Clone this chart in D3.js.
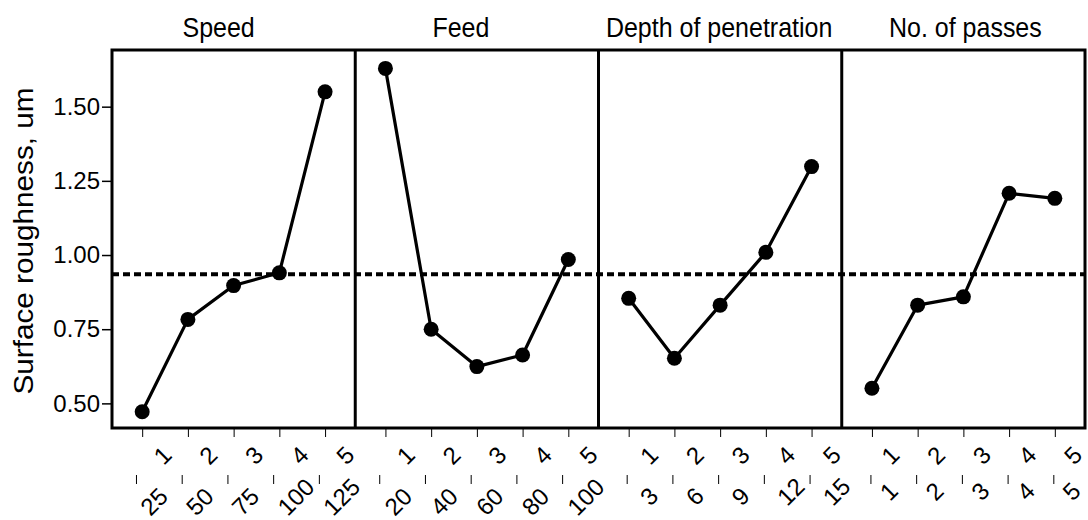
<!DOCTYPE html>
<html>
<head>
<meta charset="utf-8">
<script src="https://cdn.jsdelivr.net/npm/d3@7"></script>
<style>
  html, body { margin: 0; padding: 0; background: #fff; }
  svg { display: block; }
  text { font-family: "Liberation Sans", Arial, sans-serif; fill: #000; }
</style>
</head>
<body>
<svg id="chart" width="1088" height="520"></svg>
<script>
// ---- data ----
const factors = ["Speed", "Feed", "Depth of penetration", "No. of passes"];
const levels = ["1", "2", "3", "4", "5"];
const speedLevels = ["25", "50", "75", "100", "125"];
const feedLevels = ["20", "40", "60", "80", "100"];
const depthLevels = ["3", "6", "9", "12", "15"];
const passLevels = ["1", "2", "3", "4", "5"];
const speedMeans = [0.472, 0.783, 0.897, 0.940, 1.550];
const feedMeans = [1.629, 0.750, 0.624, 0.663, 0.985];
const depthMeans = [0.854, 0.652, 0.831, 1.009, 1.298];
const passMeans = [0.551, 0.831, 0.859, 1.208, 1.191];
const overallMean = 0.935;
const yTicks = [0.50, 0.75, 1.00, 1.25, 1.50];
const yTitle = "Surface roughness, um";

const seriesValues = [speedMeans, feedMeans, depthMeans, passMeans];
const levelLabels = [speedLevels, feedLevels, depthLevels, passLevels];

// ---- layout ----
const plotL = 112, plotR = 1085, plotT = 50, plotB = 428;
const titleShift = [-15, -16, -1, 2];
const lowerTickShift = [-5.7, -5.7, -1.5, -1];
const lowerLabelPos = [[14, 517], [15, 517], [23, 507], [19, 502]];
const upperLabelDx = [21, 21, 21, 19];

const svg = d3.select("#chart");

const xPanel = d3.scaleBand().domain(factors).range([plotL, plotR]).padding(0);
const bw = xPanel.bandwidth();
const xLevel = d3.scalePoint().domain(levels).range([0, bw]).padding(0.66);
const y = d3.scaleLinear().domain([0.417, 1.691]).range([plotB, plotT]);

// y axis
const yAxis = d3.axisLeft(y).tickValues(yTicks).tickFormat(d3.format(".2f")).tickSize(10).tickPadding(2);
const gy = svg.append("g").attr("transform", `translate(${plotL},0)`).call(yAxis);
gy.select(".domain").remove();
gy.selectAll(".tick line").attr("stroke", "#000").attr("stroke-width", 1.5);
gy.selectAll(".tick text").attr("font-size", 24).attr("font-family", '"Liberation Sans", Arial, sans-serif').attr("fill", "#000");

// y title
svg.append("text")
  .attr("transform", `translate(33,${(plotT + plotB) / 2 + 2}) rotate(-90) scale(1.1,1)`)
  .attr("text-anchor", "middle")
  .attr("font-size", 27)
  .text(yTitle);

// dashed mean line
svg.append("line")
  .attr("x1", plotL).attr("x2", plotR)
  .attr("y1", y(overallMean)).attr("y2", y(overallMean))
  .attr("stroke", "#000").attr("stroke-width", 4)
  .attr("stroke-dasharray", "7,4");

factors.forEach((f, i) => {
  const x0 = xPanel(f);
  const g = svg.append("g").attr("transform", `translate(${x0},0)`);
  const vals = seriesValues[i];
  const pts = levels.map((l, j) => ({ l, v: vals[j] }));

  // title
  svg.append("text")
    .attr("transform", `translate(${x0 + bw / 2 + titleShift[i]},37) scale(1,1.1)`)
    .attr("text-anchor", "middle")
    .attr("font-size", 25)
    .text(f);

  // upper ticks (level index)
  const xa = d3.axisBottom(xLevel).tickSize(9).tickFormat("");
  const ga = g.append("g").attr("transform", `translate(0,${plotB})`).call(xa);
  ga.select(".domain").remove();
  ga.selectAll(".tick line").attr("stroke", "#000").attr("stroke-width", 1);

  ga.selectAll(".tick").append("text")
    .attr("transform", `translate(${upperLabelDx[i]},${466 - plotB}) rotate(-45)`)
    .attr("text-anchor", "start")
    .attr("font-size", 24)
    .attr("fill", "#000")
    .text(d => d);

  // lower ticks (level values)
  const sh = lowerTickShift[i];
  const lp = lowerLabelPos[i];
  const gl = g.append("g");
  gl.selectAll("line").data(levels).join("line")
    .attr("x1", d => xLevel(d) + sh).attr("x2", d => xLevel(d) + sh)
    .attr("y1", 475).attr("y2", 484)
    .attr("stroke", "#000").attr("stroke-width", 1);
  gl.selectAll("text").data(levels).join("text")
    .attr("transform", (d) => `translate(${xLevel(d) + sh + lp[0]},${lp[1]}) rotate(-45)`)
    .attr("text-anchor", "start")
    .attr("font-size", 24)
    .text((d, j) => levelLabels[i][j]);

  // line + markers
  const line = d3.line().x(d => xLevel(d.l)).y(d => y(d.v));
  g.append("path").datum(pts)
    .attr("d", line)
    .attr("fill", "none").attr("stroke", "#000").attr("stroke-width", 3.2)
    .attr("stroke-linejoin", "round");
  g.selectAll("circle").data(pts).join("circle")
    .attr("cx", d => xLevel(d.l)).attr("cy", d => y(d.v))
    .attr("r", 7.5).attr("fill", "#000");
});

// frame and dividers
svg.append("rect")
  .attr("x", plotL).attr("y", plotT)
  .attr("width", plotR - plotL).attr("height", plotB - plotT)
  .attr("fill", "none").attr("stroke", "#000").attr("stroke-width", 3);
factors.slice(1).forEach(f => {
  svg.append("line")
    .attr("x1", xPanel(f)).attr("x2", xPanel(f))
    .attr("y1", plotT).attr("y2", plotB)
    .attr("stroke", "#000").attr("stroke-width", 3);
});
</script>
</body>
</html>
